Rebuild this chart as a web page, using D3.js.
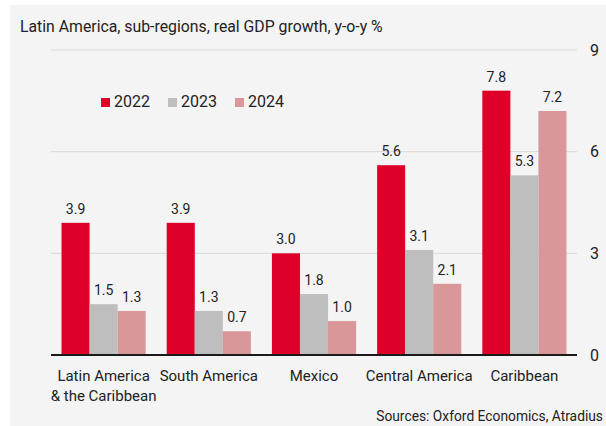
<!DOCTYPE html>
<html>
<head>
<meta charset="utf-8">
<script src="https://cdn.jsdelivr.net/npm/d3@7"></script>
<style>
  html, body { margin: 0; padding: 0; background: #ffffff; }
  svg { display: block; }
  text { font-family: Roboto, "Liberation Sans", sans-serif; fill: #222; }
</style>
</head>
<body>
<svg id="chart" width="606" height="426"></svg>
<script>
// Real GDP growth, y-o-y %, by Latin American sub-region
const categories = [["Latin America", "& the Caribbean"], ["South America"], ["Mexico"], ["Central America"], ["Caribbean"]];
const years = ["2022", "2023", "2024"];
const growth2022 = [3.9, 3.9, 3.0, 5.6, 7.8];
const growth2023 = [1.5, 1.3, 1.8, 3.1, 5.3];
const growth2024 = [1.3, 0.7, 1.0, 2.1, 7.2];
const yTicks = [0, 3, 6, 9];
const colors = ["#de0028", "#bebebe", "#d9979a"];
const title = "Latin America, sub-regions, real GDP growth, y-o-y %";
const source = "Sources: Oxford Economics, Atradius";

const series = [growth2022, growth2023, growth2024];
const svg = d3.select("#chart");

// light grey panel
svg.append("rect").attr("x", 10).attr("y", 5).attr("width", 596).attr("height", 421).attr("fill", "#f4f4f4");

const plotLeft = 51, plotRight = 577, plotTop = 50, plotBottom = 355;

const x0 = d3.scaleBand().domain(d3.range(categories.length)).range([plotLeft, plotRight]).paddingInner(0.2).paddingOuter(0.1);
const x1 = d3.scaleBand().domain(years).range([0, x0.bandwidth()]);
const y = d3.scaleLinear().domain([0, 9]).range([plotBottom, plotTop]);

// horizontal gridlines
svg.append("g").selectAll("line").data(yTicks.filter(d => d > 0)).join("line")
  .attr("x1", plotLeft).attr("x2", plotRight)
  .attr("y1", d => y(d)).attr("y2", d => y(d))
  .attr("stroke", "#d8d8d8").attr("stroke-width", 1);

// right-hand value axis
const yAxis = svg.append("g").attr("transform", `translate(${plotRight},0)`)
  .call(d3.axisRight(y).tickValues(yTicks).tickSize(0).tickPadding(13).tickFormat(d3.format("d")));
yAxis.select(".domain").remove();
yAxis.selectAll("text").attr("font-size", 16).attr("fill", "#333")
  .style("font-family", "Roboto, 'Liberation Sans', sans-serif");

// bars
const groups = svg.append("g").selectAll("g").data(categories).join("g")
  .attr("transform", (d, i) => `translate(${x0(i)},0)`);

groups.each(function(cat, i) {
  const g = d3.select(this);
  years.forEach((yr, k) => {
    const v = series[k][i];
    g.append("rect")
      .attr("x", x1(yr)).attr("width", x1.bandwidth())
      .attr("y", y(v)).attr("height", y(0) - y(v))
      .attr("fill", colors[k]);
    g.append("text")
      .attr("x", x1(yr) + x1.bandwidth() / 2).attr("y", y(v) - 9)
      .attr("text-anchor", "middle").attr("font-size", 14).attr("fill", "#333")
      .text(d3.format(".1f")(v));
  });
});

// baseline
svg.append("line").attr("x1", plotLeft).attr("x2", plotRight).attr("y1", y(0)).attr("y2", y(0))
  .attr("stroke", "#1a1a1a").attr("stroke-width", 2);

// category labels
svg.append("g").selectAll("text").data(categories).join("text")
  .attr("x", (d, i) => x0(i) + x0.bandwidth() / 2)
  .attr("y", 381)
  .attr("text-anchor", "middle").attr("font-size", 15)
  .each(function(lines) {
    const t = d3.select(this);
    lines.forEach((l, j) => {
      t.append("tspan").attr("x", t.attr("x")).attr("dy", j === 0 ? 0 : 19.5).text(l);
    });
  });

// legend
const legend = svg.append("g").attr("transform", "translate(101,98)");
years.forEach((yr, k) => {
  const lg = legend.append("g").attr("transform", `translate(${k * 67},0)`);
  lg.append("rect").attr("width", 9).attr("height", 9).attr("fill", colors[k]);
  lg.append("text").attr("x", 13).attr("y", 8.5).attr("font-size", 16).text(yr);
});

// title and source
svg.append("text").attr("x", 20).attr("y", 32).attr("font-size", 15.8).text(title);
svg.append("text").attr("x", 603).attr("y", 421).attr("text-anchor", "end").attr("font-size", 13.8).text(source);
</script>
</body>
</html>
